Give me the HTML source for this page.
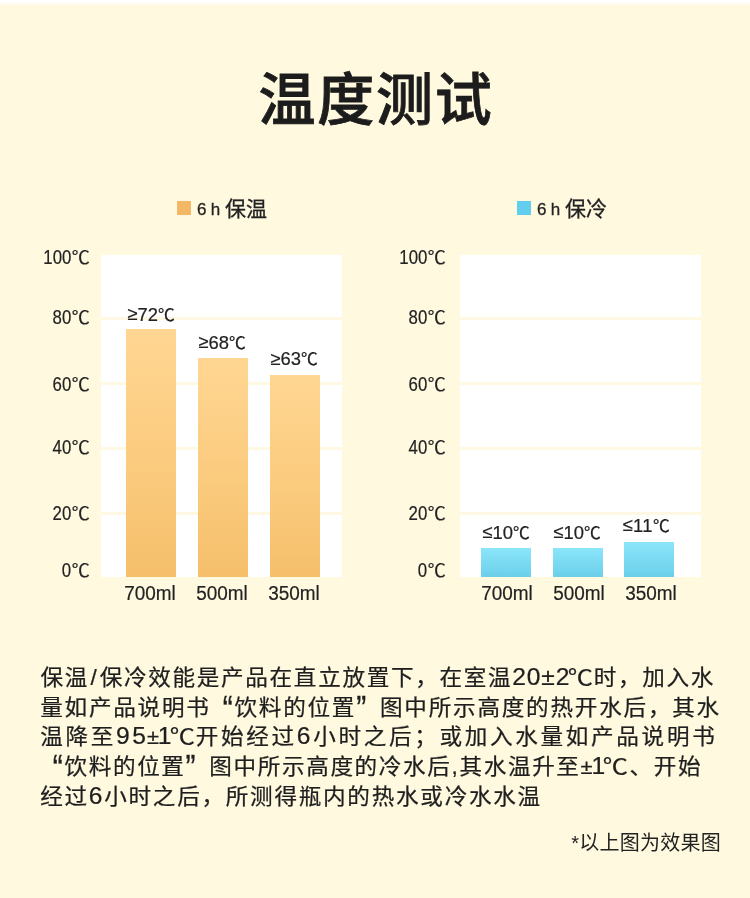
<!DOCTYPE html>
<html lang="zh-CN">
<head>
<meta charset="utf-8">
<title>温度测试</title>
<style>
*{margin:0;padding:0;box-sizing:border-box}
html,body{width:750px;height:898px;overflow:hidden}
body{position:relative;background:#fff9e0;color:#222;
  font-family:"Liberation Sans","Noto Sans CJK SC",sans-serif;}
.topfade{position:absolute;left:0;top:0;width:750px;height:6px;
  background:linear-gradient(#fff 0,#fff 25%,#fff9e0 100%)}
h1{position:absolute;left:0;width:750px;top:65px;text-align:center;padding-left:2px;
  font-size:57px;font-weight:500;-webkit-text-stroke:.8px #1c1c1c;letter-spacing:1.8px;line-height:70px;color:#1c1c1c;white-space:nowrap}

/* legends */
.sw{position:absolute;top:201px;width:14.3px;height:14.4px}
.lg6{position:absolute;top:199.7px;font-size:17px;line-height:20px;letter-spacing:4.4px;white-space:nowrap;color:#222;-webkit-text-stroke:.3px #222}
.lgc{position:absolute;top:195.2px;font-size:21px;line-height:28px;white-space:nowrap;color:#222;-webkit-text-stroke:.3px #222}

/* charts */
.plot{position:absolute;top:255px;width:241px;height:322px;background:#fff}
.grid{position:absolute;left:0;width:241px;height:3px;background:#fff8e3}
.bar{position:absolute;width:50px;bottom:0}
.bar.o{background:linear-gradient(#ffd692 0,#fbcb7e 55%,#f5bf6b 100%)}
.bar.b{background:linear-gradient(#8be6fa 0,#6bcfea 100%)}

.ylab{position:absolute;text-align:right;white-space:nowrap;color:#222;
  font-size:20px;line-height:20px;width:80px;-webkit-text-stroke:.2px #222}
.ylab b{font-weight:400;display:inline-block;transform-origin:100% 50%;transform:scaleX(.84)}
.ylab i{font-style:normal;font-size:18px;margin-left:.3px}
.blab{position:absolute;text-align:center;white-space:nowrap;color:#222;
  font-size:18.4px;line-height:20px;width:100px;-webkit-text-stroke:.2px #222}
.blab u{text-decoration:none;position:relative;top:-.7px}
.blab i{font-style:normal;font-size:16.8px}
.xlab{position:absolute;text-align:center;white-space:nowrap;color:#222;
  font-size:20.5px;line-height:20px;width:100px;top:583px;transform-origin:50% 50%;transform:scaleX(.925);-webkit-text-stroke:.2px #222}

/* paragraph */
.ln{position:absolute;left:41px;font-size:22.6px;line-height:30px;height:30px;white-space:nowrap;
  color:#1e1e1e;-webkit-text-stroke:.25px #1e1e1e;transform:scaleY(.96);transform-origin:50% 55%}
.t9{font-size:24.6px;line-height:0}
.pm{font-size:22px;letter-spacing:-1.2px}
.t{letter-spacing:.9px;font-size:24.6px;line-height:0}
.c{display:inline-block;transform:scaleX(1.12);transform-origin:50% 50%;margin:0 2.4px 0 -1.6px;letter-spacing:0}
.sl{margin:0 1.5px}
.ql,.qr{font-size:30px;line-height:0;position:relative;top:5.2px;display:inline-block;transform:scaleY(1.25);transform-origin:50% 0}
.ql{margin-left:12px}
.qr{margin-right:12px}
.note{position:absolute;right:29px;top:829px;font-size:20px;letter-spacing:.25px;line-height:28px;white-space:nowrap;color:#222}
</style>
</head>
<body>
<div class="topfade"></div>
<h1>温度测试</h1>

<!-- legends -->
<div class="sw" style="left:177px;background:#f2b865"></div>
<div class="lg6" style="left:197px">6h</div>
<div class="lgc" style="left:225px">保温</div>

<div class="sw" style="left:517px;background:#62cdec"></div>
<div class="lg6" style="left:537px">6h</div>
<div class="lgc" style="left:565px">保冷</div>

<!-- left chart -->
<div class="plot" style="left:101px">
  <div class="grid" style="top:61.7px;height:3.2px"></div>
  <div class="grid" style="top:126.8px;height:2.8px"></div>
  <div class="grid" style="top:191.7px;height:3.2px"></div>
  <div class="grid" style="top:256.8px;height:2.8px"></div>
  <div class="bar o" style="left:25px;height:248px"></div>
  <div class="bar o" style="left:97px;height:219px"></div>
  <div class="bar o" style="left:169px;height:202px"></div>
</div>
<div class="ylab" style="left:9.7px;top:247px"><b>100</b><i>℃</i></div>
<div class="ylab" style="left:9.7px;top:307px"><b>80</b><i>℃</i></div>
<div class="ylab" style="left:9.7px;top:374px"><b>60</b><i>℃</i></div>
<div class="ylab" style="left:9.7px;top:437px"><b>40</b><i>℃</i></div>
<div class="ylab" style="left:9.7px;top:503px"><b>20</b><i>℃</i></div>
<div class="ylab" style="left:9.7px;top:560px"><b>0</b><i>℃</i></div>

<div class="blab" style="left:101px;top:305px"><u>≥</u>72<i>℃</i></div>
<div class="blab" style="left:172px;top:332.5px"><u>≥</u>68<i>℃</i></div>
<div class="blab" style="left:244px;top:349.4px"><u>≥</u>63<i>℃</i></div>

<div class="xlab" style="left:100px">700ml</div>
<div class="xlab" style="left:172px">500ml</div>
<div class="xlab" style="left:244px">350ml</div>

<!-- right chart -->
<div class="plot" style="left:460px">
  <div class="grid" style="top:61.7px;height:3.2px"></div>
  <div class="grid" style="top:126.8px;height:2.8px"></div>
  <div class="grid" style="top:191.7px;height:3.2px"></div>
  <div class="grid" style="top:256.8px;height:2.8px"></div>
  <div class="bar b" style="left:21px;height:29px"></div>
  <div class="bar b" style="left:93px;height:29px"></div>
  <div class="bar b" style="left:164px;height:35px"></div>
</div>
<div class="ylab" style="left:365.8px;top:247px"><b>100</b><i>℃</i></div>
<div class="ylab" style="left:365.8px;top:307px"><b>80</b><i>℃</i></div>
<div class="ylab" style="left:365.8px;top:374px"><b>60</b><i>℃</i></div>
<div class="ylab" style="left:365.8px;top:437px"><b>40</b><i>℃</i></div>
<div class="ylab" style="left:365.8px;top:503px"><b>20</b><i>℃</i></div>
<div class="ylab" style="left:365.8px;top:560px"><b>0</b><i>℃</i></div>

<div class="blab" style="left:456px;top:523px"><u>≤</u>10<i>℃</i></div>
<div class="blab" style="left:527px;top:523px"><u>≤</u>10<i>℃</i></div>
<div class="blab" style="left:596.3px;top:516px;letter-spacing:.4px"><u>≤</u>11<i>℃</i></div>

<div class="xlab" style="left:457px">700ml</div>
<div class="xlab" style="left:529px">500ml</div>
<div class="xlab" style="left:601px">350ml</div>

<!-- paragraph -->
<div class="ln" id="l1" style="top:662.8px;left:40.4px;letter-spacing:1.66px">保温<span class="sl">/</span>保冷效能是产品在直立放置下，在室温<span class="t">20±2</span><span class="c">℃</span>时，加入水</div>
<div class="ln" id="l2" style="top:692.6px;left:40.2px;letter-spacing:1.76px">量如产品说明书<span class="ql">“</span>饮料的位置<span class="qr">”</span>图中所示高度的热开水后，其水</div>
<div class="ln" id="l3" style="top:722.2px;left:40.2px;letter-spacing:2.67px">温降至<span class="t9">9</span><span class="t">5<span class="pm">±</span>1</span><span class="c">℃</span>开始经过<span class="t9">6</span>小时之后；或加入水量如产品说明书</div>
<div class="ln" id="l4" style="top:752.4px;left:40.8px;letter-spacing:1.636px"><span class="ql">“</span>饮料的位置<span class="qr">”</span>图中所示高度的冷水后,其水温升至<span class="t"><span class="pm">±</span>1</span><span class="c">℃</span>、开始</div>
<div class="ln" id="l5" style="top:782.3px;left:40.2px;letter-spacing:1.72px">经过<span class="t9">6</span>小时之后，所测得瓶内的热水或冷水水温</div>

<div class="note">*以上图为效果图</div>
</body>
</html>
